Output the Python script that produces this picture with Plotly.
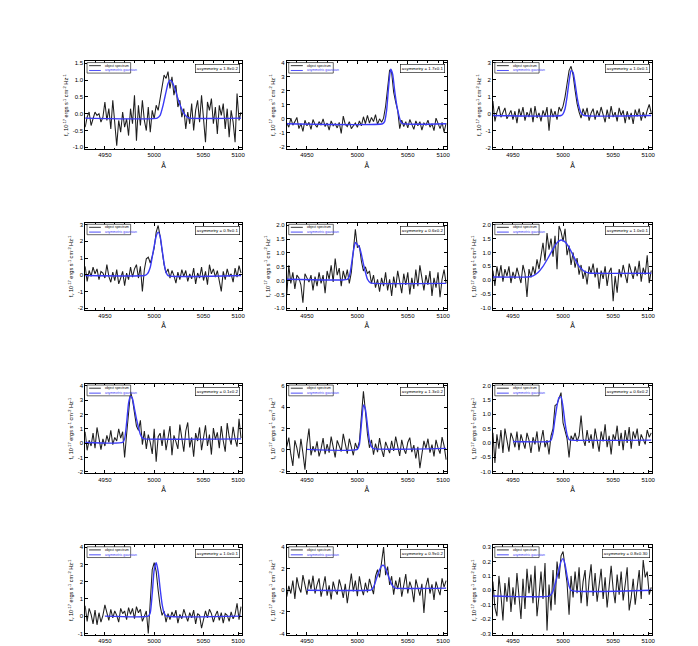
import plotly.graph_objects as go

# ---------------- data ----------------
WAVE_START = 4930
WAVE_STEP = 2
N_PIX = 80
wave = [WAVE_START + WAVE_STEP * i for i in range(N_PIX)]

asym_labels = ["1.8±0.2", "1.7±0.1", "1.0±0.1",
               "0.9±0.1", "0.6±0.2", "1.0±0.1",
               "0.1±0.2", "1.3±0.2", "0.6±0.2",
               "1.0±0.1", "0.9±0.2", "0.8±0.30"]

spec1 = [-0.40, -0.10, 0.05, -0.35, -0.15, 0.05, -0.05, 0.00, -0.25, -0.10,
         0.35, -0.20, 0.15, -0.45, 0.40, -0.30, -0.95, -0.20, -0.55, 0.05,
         -0.40, -0.15, -0.65, 0.15, -0.30, 0.55, -0.80, 0.25, -0.35, 0.40,
         -0.20, -0.50, 0.20, -0.55, 0.10, -0.15, 0.25, 0.10, 0.45, 0.80,
         1.15, 1.05, 1.25, 0.75, 1.10, 0.55, 0.85, 0.20, 0.40, -0.10,
         0.15, -0.45, 0.05, -0.30, 0.30, -0.50, 0.10, 0.40, -0.25, 0.55,
         -0.15, -0.85, 0.35, 0.10, 0.45, -0.30, 0.20, -0.60, 0.25, -0.05,
         0.30, -0.45, 0.15, -0.70, 0.10, -0.25, -0.85, 0.60, -0.20, 0.05]
spec2 = [-0.30, -0.60, 0.05, -0.45, -0.20, 0.10, -0.70, -0.35, -0.90, -0.10,
         -0.50, -0.25, -0.75, -0.05, -0.40, -0.60, -0.20, -0.45, 0.00, -0.55,
         -0.30, -0.80, -0.15, -0.50, -0.35, -0.65, -0.25, -1.05, 0.20, -0.40,
         -0.55, -0.20, -0.70, -0.45, -0.30, -0.60, -0.15, -0.50, 0.15, -0.35,
         0.25, -0.30, 0.10, -0.20, 0.30, -0.40, 0.00, -0.25, 0.05, 0.90,
         2.40, 3.50, 3.30, 1.90, 1.20, 0.60, -0.70, -0.10, -0.55, -0.20,
         -0.65, -0.05, -0.40, -0.75, -0.15, -0.50, -0.20, -0.80, -0.30, -0.45,
         -0.10, -0.60, -0.35, -0.85, 0.05, -0.40, -0.70, -0.25, -0.95, -0.30]
spec3 = [0.75, -0.45, 0.10, 0.45, -0.20, 0.05, 0.35, -0.30, -0.05, 0.20,
         -0.35, 0.15, -0.55, 0.30, -0.15, 0.40, -0.40, 0.10, -0.20, 0.35,
         -0.50, 0.45, -0.25, 0.05, -0.45, 0.20, -0.15, 0.40, -1.00, 0.30,
         -0.20, 0.15, -0.35, 0.40, 0.15, 0.45, 1.00, 1.90, 2.55, 2.80,
         2.30, 1.40, 0.60, 0.10, -0.25, 0.30, -0.10, 0.35, -0.40, 0.05,
         0.30, -0.35, 0.20, -0.15, 0.40, -0.05, -0.50, 0.25, -0.30, 0.45,
         -0.20, 0.10, -0.45, 0.35, -0.10, 0.20, -0.55, 0.15, -0.35, 0.05,
         -0.60, 0.25, -0.15, 0.30, -0.40, 0.10, -0.25, 0.20, 0.55, 0.05]
spec4 = [0.50, -0.40, 0.25, -0.10, 0.45, 0.05, 0.35, -0.30, 0.20, 0.10,
         -0.20, 0.60, -0.10, -0.45, 0.15, -0.35, 0.30, -0.55, -0.20, 0.20,
         -0.65, 0.10, -0.30, 0.45, -0.15, 0.35, 0.60, -0.20, 0.50, -1.00,
         0.30, 0.95, 1.05, 0.70, 1.10, 1.60, 2.55, 2.95, 2.30, 1.40,
         0.60, 0.10, 0.35, -0.20, 0.25, -0.05, -0.50, 0.15, -0.30, 0.30,
         -0.10, 0.25, -0.40, 0.05, -0.25, 0.40, -0.55, 0.10, -0.20, 0.45,
         -0.35, 0.20, -0.60, 0.60, 0.05, 0.35, -0.15, 0.25, -0.40, -1.00,
         0.20, -0.30, 0.35, -0.10, 0.05, -0.45, 0.40, -0.15, 0.55, 0.10]
spec5 = [-0.50, 0.55, -0.10, 0.30, -0.30, 0.20, 0.10, -0.15, -0.80, 0.25,
         0.10, -0.05, 0.20, -0.35, 0.15, -0.20, 0.30, -0.10, 0.20, -0.45,
         0.35, 0.05, 0.55, -0.05, 0.80, 0.20, 0.45, -0.20, 0.35, 0.05,
         0.40, -0.10, 0.30, 1.05, 1.85, 1.20, 1.25, 0.70, 0.35, 0.50,
         0.25, 0.35, -0.10, 0.20, -0.25, 0.05, -0.40, 0.10, -0.20, 0.30,
         -0.35, 0.05, -0.55, 0.15, -0.25, 0.35, -0.05, -0.45, 0.25, -0.15,
         0.30, -0.50, 0.10, -0.30, 0.40, -0.20, 0.55, 0.05, -0.35, 0.20,
         -0.15, 0.35, -0.55, 0.10, -0.25, 0.30, -0.60, 0.05, 0.40, -0.10]
spec6 = [0.35, -0.20, 0.50, 0.10, 0.55, -0.05, 0.40, 0.15, 0.50, -0.10,
         0.30, 0.05, 0.45, 0.20, -0.10, 0.55, 0.25, -0.60, 0.40, 0.10,
         0.50, 0.20, 0.75, 0.40, 0.95, 1.35, 0.70, 1.70, 1.10, 1.50,
         0.85, 1.60, 0.40, 1.95, 1.75, 1.40, 1.85, 0.90, 1.25, 0.55,
         1.00, 0.45, 0.80, 0.20, 0.55, 0.05, 0.35, -0.15, 0.50, 0.25,
         0.60, 0.10, 0.45, -0.30, 0.35, 0.05, 0.50, -0.20, 0.30, 0.45,
         -0.75, 0.15, -0.45, 0.40, 0.10, 0.55, 0.20, -0.10, 0.60, 0.30,
         0.05, 0.50, 0.15, 0.70, -0.05, 0.45, 0.20, 0.90, -0.10, 0.35]
spec7 = [0.80, -0.50, 0.20, -0.20, 0.70, -0.35, 1.10, 0.15, -0.45, 0.30,
         -0.20, 0.55, 0.05, 0.90, -0.10, 0.40, 0.15, 1.00, 0.35, 0.80,
         -1.00, 0.60, 2.40, 3.60, 3.05, 2.20, 1.20, 0.90, 1.60, -0.10,
         0.85, -0.40, 0.60, 0.05, -0.75, 1.00, -1.30, 0.45, 0.70, -0.20,
         0.95, -0.50, 0.30, 1.20, -0.85, 0.55, 0.10, -0.40, 1.30, 0.20,
         -0.60, 0.85, 1.45, -0.30, 0.40, -0.95, 0.70, 0.15, 1.10, -0.50,
         0.30, 1.25, -0.20, 0.60, -0.80, 1.05, 0.25, 0.75, -0.35, 1.20,
         0.15, -0.60, 1.40, 0.45, -0.10, 1.15, 0.30, -0.25, 1.70, 0.35]
spec8 = [0.30, 1.15, -0.40, -1.50, 0.90, 0.20, -0.80, 1.05, -0.30, -1.85,
         0.60, 2.00, -0.50, 0.35, -0.20, 0.80, -0.60, 0.10, 1.10, -0.40,
         0.55, -0.25, 1.25, 0.05, -0.70, 0.90, 0.30, -0.15, 1.50, 0.40,
         -0.35, 1.05, 0.20, -0.50, 0.65, 0.10, 0.80, 2.90, 5.50, 3.60,
         1.50, 0.20, 0.95, -0.45, 0.60, -0.20, 1.10, 0.05, -0.65, 0.75,
         0.25, -0.30, 0.85, -0.10, 1.25, 0.40, -0.55, 0.95, 0.10, -0.35,
         0.70, 1.15, -0.20, 0.45, -0.80, 0.30, -1.70, -0.40, 0.85, 0.15,
         1.05, -0.25, 0.50, -0.60, 0.95, 0.20, -0.35, 1.20, 0.40, -0.90]
spec9 = [0.35, -0.70, 0.30, -0.20, 0.45, -0.35, 0.50, 0.05, -0.30, 0.35,
         0.15, -0.15, 0.40, -0.25, 0.30, 0.05, -0.20, 0.35, 0.10, -0.35,
         0.20, -0.05, 0.40, -0.30, 0.15, 0.45, -0.15, 0.10, -0.40, 0.25,
         0.50, 1.30, 1.35, 1.55, 1.75, 0.70, 0.40, 0.15, -0.50, 0.25,
         0.10, 0.35, 0.05, 0.25, 0.95, 0.15, -0.10, 0.45, 0.00, 0.30,
         -0.20, 0.50, 0.10, -0.30, 0.40, 0.05, 0.65, -0.15, 0.25, -0.40,
         0.30, 0.10, 0.60, -0.10, 0.35, -0.25, 0.45, 0.00, 0.55, -0.20,
         0.40, 0.15, 0.50, -0.10, 0.30, 0.10, -0.05, 0.45, 0.20, 0.35]
spec10 = [0.60, -0.30, 0.45, 0.10, -0.45, 0.35, -0.50, 0.20, -0.35, 0.05,
          0.65, 0.15, -0.25, 0.40, -0.10, 0.30, 0.05, -0.35, 0.45, 0.15,
          0.30, -0.20, 0.50, 0.10, 0.45, -0.15, 0.55, 0.20, 0.40, -0.30,
          0.05, 0.30, -1.00, 0.90, 2.70, 3.10, 2.60, 1.50, 0.60, 0.05,
          0.30, -0.35, 0.15, -0.20, 0.25, -0.05, 0.35, -0.40, 0.10, -0.15,
          0.40, 0.05, -0.30, 0.20, -0.10, 0.35, -0.45, 0.15, 0.05, -0.70,
          -0.20, 0.30, -0.10, 0.40, 0.15, -0.35, 0.05, 0.30, -0.25, 0.20,
          -0.40, 0.15, 0.05, -0.30, 0.25, -0.15, 0.10, 0.75, -0.20, 0.55]
spec11 = [-0.60, 0.40, -0.30, 0.90, -0.80, 1.20, 0.30, -0.20, 1.40, 0.60,
          -0.40, 1.00, 0.10, 1.35, -0.30, 0.50, 1.10, -0.60, 0.20, 1.30,
          -0.50, 0.45, -0.85, 0.80, 0.05, -0.40, 1.00, 0.30, -0.70, 0.60,
          -1.20, 0.35, 1.55, -0.10, 0.90, -0.55, 1.30, 0.20, -0.45, 0.70,
          -0.20, 1.05, 0.40, -0.35, 1.30, 1.90, 1.20, 2.40, 4.00, 1.40,
          2.20, 0.50, 1.30, -0.40, 0.90, 0.10, 1.20, -0.60, 0.45, 1.50,
          -0.30, 0.80, 0.20, -1.10, 1.00, 0.35, -0.50, 0.60, -2.10, 0.40,
          1.15, -0.30, 0.55, -0.90, 0.80, 0.10, -0.45, 1.10, 0.30, 0.90]
spec12 = [0.06, -0.12, -0.18, 0.10, -0.03, -0.21, 0.05, -0.08, 0.09, -0.15,
          0.02, -0.10, 0.12, -0.05, -0.20, 0.08, -0.13, 0.15, -0.02, 0.11,
          -0.09, 0.17, -0.18, -0.04, 0.13, -0.06, 0.19, -0.28, 0.04, -0.14,
          0.14, -0.10, 0.20, 0.08, 0.24, 0.27, 0.15, 0.05, -0.17, 0.10,
          -0.05, 0.13, -0.02, 0.16, -0.09, 0.06, 0.14, -0.11, 0.07, 0.18,
          -0.04, 0.12, -0.08, 0.03, 0.15, -0.06, 0.09, -0.12, 0.05, 0.17,
          0.01, -0.09, 0.11, -0.03, 0.13, -0.07, 0.04, 0.16, -0.14, -0.05,
          0.08, -0.10, 0.02, 0.14, -0.06, 0.21, 0.09, 0.13, -0.03, 0.02]
spectra = [spec1, spec2, spec3, spec4, spec5, spec6,
           spec7, spec8, spec9, spec10, spec11, spec12]

# asymmetric gaussian fits
fit1_x = [4930, 5003, 5006, 5009, 5012, 5014, 5016, 5018, 5021, 5024, 5027, 5030, 5033, 5036, 5088]
fit1_y = [-0.13, -0.13, -0.05, 0.25, 0.65, 0.90, 1.00, 0.95, 0.75, 0.45, 0.20, 0.02, -0.09, -0.13, -0.13]
fit2_x = [4930, 5025, 5027, 5029, 5031, 5033, 5035, 5037, 5039, 5041, 5043, 5045, 5088]
fit2_y = [-0.35, -0.35, -0.2, 0.6, 2.3, 3.55, 3.2, 2.0, 1.0, 0.3, -0.2, -0.35, -0.35]
fit3_x = [4930, 4998, 5000, 5002, 5004, 5006, 5008, 5010, 5012, 5014, 5016, 5018, 5021, 5088]
fit3_y = [-0.1, -0.1, 0.0, 0.3, 1.0, 1.9, 2.55, 2.45, 1.8, 1.0, 0.4, 0.05, -0.1, -0.1]
fit4_x = [4930, 4990, 4993, 4996, 4999, 5002, 5004, 5006, 5008, 5010, 5012, 5014, 5088]
fit4_y = [-0.05, -0.05, 0.05, 0.45, 1.4, 2.3, 2.55, 2.3, 1.5, 0.7, 0.15, -0.05, -0.05]
fit5_x = [4930, 4990, 4992, 4994, 4996, 4998, 5000, 5002, 5004, 5006, 5008, 5010, 5013, 5016, 5088]
fit5_y = [0.05, 0.05, 0.15, 0.55, 1.05, 1.38, 1.30, 1.20, 0.95, 0.60, 0.30, 0.05, -0.08, -0.1, -0.1]
fit6_x = [4930, 4965, 4970, 4975, 4980, 4985, 4990, 4994, 4998, 5002, 5006, 5010, 5014, 5018, 5022, 5026, 5030, 5088]
fit6_y = [0.12, 0.12, 0.16, 0.28, 0.50, 0.80, 1.12, 1.35, 1.45, 1.38, 1.18, 0.90, 0.62, 0.42, 0.30, 0.26, 0.25, 0.25]
fit7_x = [4930, 4968, 4970, 4972, 4974, 4976, 4978, 4980, 4982, 4984, 4986, 4988, 4990, 5088]
fit7_y = [0.05, 0.05, 0.3, 1.4, 2.8, 3.3, 3.1, 2.4, 1.7, 1.1, 0.6, 0.35, 0.3, 0.3]
fit8_x = [4950, 5000, 5002, 5004, 5006, 5008, 5010, 5012, 5014, 5016, 5088]
fit8_y = [0.05, 0.05, 0.5, 2.4, 4.2, 3.8, 2.3, 0.9, 0.3, 0.12, 0.15]
fit9_x = [4950, 4986, 4988, 4990, 4992, 4994, 4996, 4998, 5000, 5002, 5004, 5006, 5008, 5088]
fit9_y = [0.05, 0.05, 0.1, 0.35, 0.85, 1.3, 1.58, 1.6, 1.25, 0.7, 0.3, 0.12, 0.1, 0.1]
fit10_x = [4950, 4994, 4996, 4998, 5000, 5002, 5004, 5006, 5008, 5010, 5012, 5088]
fit10_y = [0.0, 0.0, 0.2, 1.3, 2.7, 3.1, 2.6, 1.6, 0.7, 0.2, 0.02, 0.0]
fit11_x = [4950, 5012, 5014, 5016, 5018, 5020, 5022, 5024, 5026, 5028, 5030, 5032, 5034, 5036, 5038, 5088]
fit11_y = [0.0, 0.0, 0.05, 0.3, 0.8, 1.4, 1.9, 2.25, 2.3, 2.0, 1.5, 1.0, 0.55, 0.3, 0.2, 0.2]
fit12_x = [4930, 4986, 4989, 4992, 4995, 4998, 5000, 5002, 5004, 5006, 5008, 5088]
fit12_y = [-0.04, -0.04, -0.02, 0.04, 0.12, 0.20, 0.22, 0.18, 0.10, 0.03, 0.0, 0.0]
fits_x = [fit1_x, fit2_x, fit3_x, fit4_x, fit5_x, fit6_x,
          fit7_x, fit8_x, fit9_x, fit10_x, fit11_x, fit12_x]
fits_y = [fit1_y, fit2_y, fit3_y, fit4_y, fit5_y, fit6_y,
          fit7_y, fit8_y, fit9_y, fit10_y, fit11_y, fit12_y]

# axes
x_tickvals = [4950, 5000, 5050, 5085]
x_ticktext = ["4950", "5000", "5050", "5100"]
x_minor = [4940, 4960, 4970, 4980, 4990, 5010, 5020, 5030, 5040, 5060, 5070, 5080]
x_range = [4930, 5089]

y_ranges = [[-1.05, 1.56], [-2.16, 4.12], [-2.08, 3.1],
            [-2.1, 3.1], [-1.05, 2.08], [-1.06, 2.06],
            [-2.12, 4.16], [-2.2, 6.2], [-1.06, 2.06],
            [-1.1, 4.1], [-4.15, 4.15], [-0.312, 0.312]]
y_ticks = [[-1.0, -0.5, 0.0, 0.5, 1.0, 1.5], [-2, -1, 0, 1, 2, 3, 4], [-2, -1, 0, 1, 2, 3],
           [-2, -1, 0, 1, 2, 3], [-1.0, -0.5, 0.0, 0.5, 1.0, 1.5, 2.0], [-1.0, -0.5, 0.0, 0.5, 1.0, 1.5, 2.0],
           [-2, -1, 0, 1, 2, 3, 4], [-2, 0, 2, 4, 6], [-1.0, -0.5, 0.0, 0.5, 1.0, 1.5, 2.0],
           [-1, 0, 1, 2, 3, 4], [-4, -2, 0, 2, 4], [-0.3, -0.2, -0.1, 0.0, 0.1, 0.2, 0.3]]
y_fmt = ["{:.1f}", "{:d}", "{:d}", "{:d}", "{:.1f}", "{:.1f}",
         "{:d}", "{:d}", "{:.1f}", "{:d}", "{:d}", "{:.1f}"]

# ---------------- layout geometry (pixels) ----------------
W, H = 698, 646
col_px = [(77.5, 235), (280, 441), (487, 647)]
row_px = [(53, 142), (217, 305), (380, 471), (544, 635)]

BLUE = "#3a3af6"
BLACK = "#1e1e1e"
FONT = "Liberation Sans, Arial, Helvetica, sans-serif"
ytitle = "f<sub>ν</sub> 10<sup>-17</sup> ergs s<sup>-1</sup> cm<sup>-2</sup> Hz<sup>-1</sup>"

fig = go.Figure()
shapes = []
annotations = []
layout_axes = {}

for k in range(12):
    r, c = divmod(k, 3)
    n = "" if k == 0 else str(k + 1)
    xref, yref = "x" + n, "y" + n
    fig.add_trace(go.Scatter(x=wave, y=spectra[k], mode="lines",
                             line=dict(color=BLACK, width=1.05),
                             name="object spectrum", showlegend=False,
                             xaxis=xref, yaxis=yref))
    fig.add_trace(go.Scatter(x=fits_x[k], y=fits_y[k], mode="lines",
                             line=dict(color=BLUE, width=1.4, shape="spline", smoothing=0.5),
                             name="asymmetric gaussian", showlegend=False,
                             xaxis=xref, yaxis=yref))
    x0, x1 = col_px[c]
    t0, t1 = row_px[r]
    xdom = [x0 / W, x1 / W]
    ydom = [1 - t1 / H, 1 - t0 / H]
    layout_axes["xaxis" + n] = dict(
        domain=xdom, range=x_range, anchor=yref,
        tickmode="array", tickvals=x_tickvals, ticktext=x_ticktext,
        ticks="inside", ticklen=3, tickwidth=0.8, tickcolor="black",
        showline=True, linecolor="black", linewidth=0.9, mirror="ticks",
        showgrid=False, zeroline=False,
        tickfont=dict(size=6, color="black", family=FONT),
        title=dict(text="Å", font=dict(size=7, color="black", family=FONT), standoff=5),
        minor=dict(ticks="inside", ticklen=1.5, tickcolor="black", tickvals=x_minor),
    )
    layout_axes["yaxis" + n] = dict(
        domain=ydom, range=y_ranges[k], anchor=xref,
        tickmode="array", tickvals=y_ticks[k],
        ticktext=[y_fmt[k].format(v) for v in y_ticks[k]],
        ticks="inside", ticklen=3, tickwidth=0.8, tickcolor="black",
        showline=True, linecolor="black", linewidth=0.9, mirror="ticks",
        showgrid=False, zeroline=False,
        tickfont=dict(size=6, color="black", family=FONT),
        title=dict(text=ytitle, font=dict(size=5.6, color="black", family=FONT), standoff=3),
    )
    xd, yd = xref + " domain", yref + " domain"
    # legend box
    shapes.append(dict(type="rect", xref=xd, yref=yd, x0=0.012, x1=0.29, y0=0.865, y1=0.985,
                       line=dict(color="black", width=0.6), fillcolor="white", layer="above"))
    shapes.append(dict(type="line", xref=xd, yref=yd, x0=0.025, x1=0.10, y0=0.95, y1=0.95,
                       line=dict(color=BLACK, width=0.9), layer="above"))
    shapes.append(dict(type="line", xref=xd, yref=yd, x0=0.025, x1=0.10, y0=0.895, y1=0.895,
                       line=dict(color=BLUE, width=0.9), layer="above"))
    annotations.append(dict(xref=xd, yref=yd, x=0.115, y=0.95, text="object spectrum",
                            showarrow=False, xanchor="left", yanchor="middle",
                            font=dict(size=3.4, color="black", family=FONT)))
    annotations.append(dict(xref=xd, yref=yd, x=0.115, y=0.895, text="asymmetric gaussian",
                            showarrow=False, xanchor="left", yanchor="middle",
                            font=dict(size=3.4, color=BLUE, family=FONT)))
    # asymmetry box
    annotations.append(dict(xref=xd, yref=yd, x=0.985, y=0.965,
                            text="asymmetry = " + asym_labels[k],
                            showarrow=False, xanchor="right", yanchor="top",
                            bordercolor="black", borderwidth=0.6, borderpad=1.2,
                            bgcolor="white",
                            font=dict(size=4.4, color="black", family=FONT)))

fig.update_layout(
    width=W, height=H,
    margin=dict(l=0, r=0, t=0, b=0),
    paper_bgcolor="white", plot_bgcolor="white",
    showlegend=False,
    shapes=shapes, annotations=annotations,
    **layout_axes,
)

fig.write_html("out.html")
